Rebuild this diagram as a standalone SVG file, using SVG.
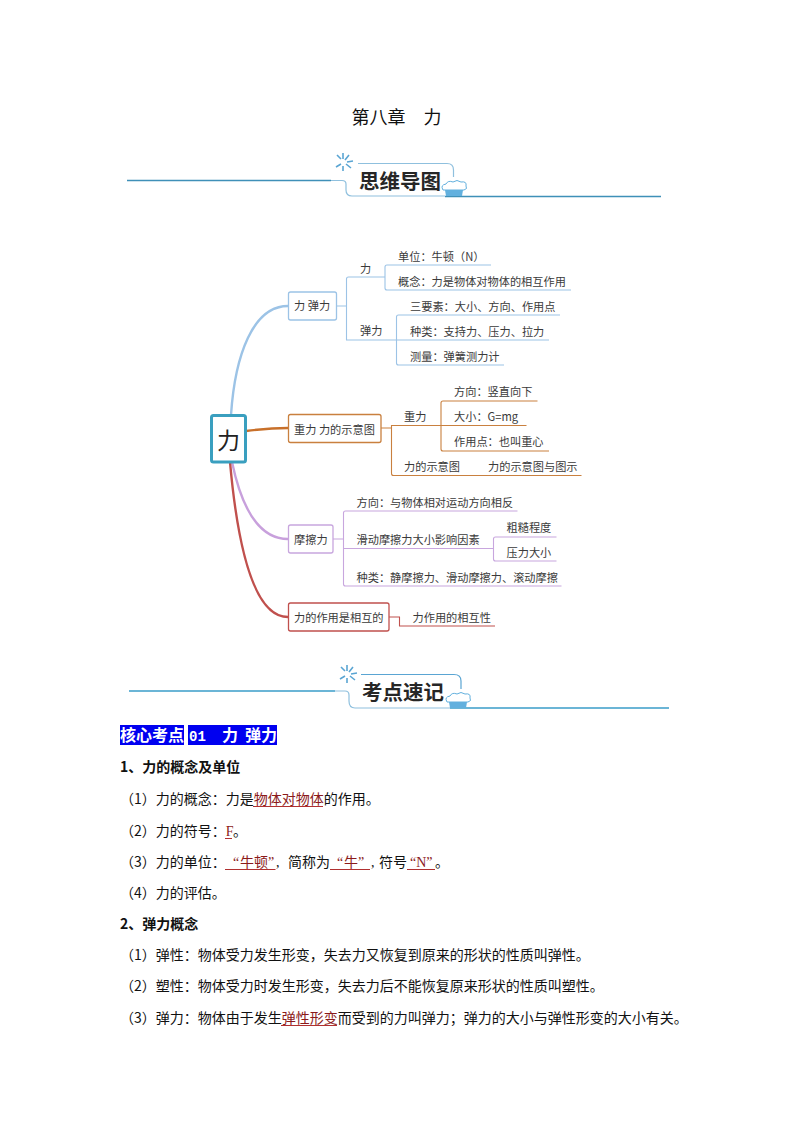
<svg xmlns="http://www.w3.org/2000/svg" width="793" height="1123" viewBox="0 0 793 1123">
<style>
text{font-family:"Noto Sans CJK SC","Noto Sans",sans-serif;}
.m{font-size:11.2px;fill:#3a3a3a}
.b{font-size:14px;fill:#111}
.bb{font-size:14px;font-weight:700;fill:#111}
.r{fill:#8b1a1a}
.sf{font-family:"Liberation Serif",serif}
.u{stroke:#b03030;stroke-width:1;fill:none}
.ban{font-size:16px;font-weight:700;fill:#fff}
.h{font-size:20.500px;font-weight:700;fill:#262626}
.bx{fill:#fff;stroke-width:1.3}
.cb{fill:none;stroke:#9cc3e6;stroke-width:1.1}
.co{fill:none;stroke:#c9803f;stroke-width:1.1}
.cp{fill:none;stroke:#c8a6de;stroke-width:1.1}
.cr{fill:none;stroke:#c0504d;stroke-width:1.1}
.ray{stroke:#5aa5d3;stroke-width:1.6;fill:none}
.hl{fill:none;stroke:#3f90b8;stroke-width:1.4}
.hb{fill:none;stroke:#8fc0de;stroke-width:1.2}
.hat{fill:#fff;stroke:#62b0de;stroke-width:1}
.hatb{fill:#62b0de}
</style>
<defs>
<g id="deco">
<path class="ray" d="M-1 -9L-1 -3M5 -7L1 -2M9 -1L3 0M7 6L2 2M-1 9L-1 4M-8 5L-3 2M-7 -7L-3 -3"/>
<path class="hat" d="M99 28Q96 23 102 22Q104 18 109 20Q113 17 117 20Q123 19 122 24Q124 27 120 28Z"/>
<path class="hatb" d="M101 28H119L118 34H102Z"/>
</g>
</defs>
<text x="351.5" y="124" font-size="18" fill="#111">第八章　力</text>

<g id="header1">
<path class="hl" d="M127 180.500H331"/>
<path class="hb" d="M331 180.500H342Q346 180.500 346 184V190Q346 196 352 196H445"/>
<path class="hb" d="M358 163.500H447Q453.500 163.500 453.500 170V177"/>
<path class="hl" d="M445 196.500H661"/>
<use href="#deco" x="344" y="162"/>
<text class="h" x="359" y="188.500">思维导图</text>
</g>

<g id="connectors">
<path fill="none" stroke="#9cc3e6" stroke-width="2.4" d="M231 415C235 355 253 306 288 306"/>
<path fill="none" stroke="#c8702a" stroke-width="2.4" d="M246 431C262 429 272 428 288 428"/>
<path fill="none" stroke="#c8a0dc" stroke-width="2.4" d="M232 462C241 505 258 539 288 539"/>
<path fill="none" stroke="#c0504d" stroke-width="2.4" d="M230 462C237 540 252 617 288 617"/>
<path class="cb" d="M337 306H346.500M396.500 340H346.500Q346.500 340 346.500 338V279Q346.500 277 348.500 277H385M385 277V267Q385 265 387 265H491M385 277V288Q385 290 387 290H571"/>
<path class="cb" d="M396.500 340V317Q396.500 315 398.500 315H560M396.500 340H549M396.500 340V363Q396.500 365 398.500 365H504"/>
<path class="co" d="M381 428H391.500M441 425.500H391.500V473.500Q391.500 475.500 393.500 475.500H581.500"/>
<path class="co" d="M441 425.500V403Q441 401 443 401H537.500M441 425.500H526.500M441 425.500V449Q441 451 443 451H549"/>
<path class="cp" d="M333 539H343.500M343.500 548.500V513Q343.500 511 345.500 511H517.500M343.500 548.500H493.500M343.500 548.500V584Q343.500 586 345.500 586H561.500"/>
<path class="cp" d="M493.500 548.500V539Q493.500 537 495.500 537H556.500M493.500 548.500V559Q493.500 561 495.500 561H556.500"/>
<path class="cr" d="M389 617H399.500V626H495"/>
</g>

<g id="central">
<rect x="211.500" y="415.500" width="34" height="46.500" rx="2" fill="#fff" stroke="#3a9fbf" stroke-width="3"/>
<text x="228.500" y="449" font-size="23" text-anchor="middle" fill="#222">力</text>
</g>
<g id="n1"><rect class="bx" x="288.500" y="292" width="48" height="28" rx="2" stroke="#9cc3e6"/><text class="m" x="294" y="310">力 弹力</text></g>
<g id="n2"><rect class="bx" x="288.500" y="414.500" width="92.500" height="28" rx="2" stroke="#c9803f"/><text class="m" x="294" y="434">重力 力的示意图</text></g>
<g id="n3"><rect class="bx" x="288.500" y="525" width="44.500" height="28" rx="2" stroke="#c8a6de"/><text class="m" x="294" y="544">摩擦力</text></g>
<g id="n4"><rect class="bx" x="288.500" y="603" width="100.500" height="28" rx="2" stroke="#c0504d"/><text class="m" x="294" y="622">力的作用是相互的</text></g>

<g id="l1"><text class="m" x="360" y="273">力</text></g>
<g id="l2"><text class="m" x="360" y="335">弹力</text></g>
<g id="l3"><text class="m" x="398" y="261">单位：牛顿（N）</text></g>
<g id="l4"><text class="m" x="398" y="286">概念：力是物体对物体的相互作用</text></g>
<g id="l5"><text class="m" x="410" y="311">三要素：大小、方向、作用点</text></g>
<g id="l6"><text class="m" x="410" y="336">种类：支持力、压力、拉力</text></g>
<g id="l7"><text class="m" x="410" y="361">测量：弹簧测力计</text></g>
<g id="l8"><text class="m" x="404" y="421">重力</text></g>
<g id="l9"><text class="m" x="454" y="396">方向：竖直向下</text></g>
<g id="l10"><text class="m" x="454" y="421">大小：G=mg</text></g>
<g id="l11"><text class="m" x="454" y="446">作用点：也叫重心</text></g>
<g id="l12"><text class="m" x="404" y="471">力的示意图</text></g>
<g id="l13"><text class="m" x="488" y="471">力的示意图与图示</text></g>
<g id="l14"><text class="m" x="356.500" y="507">方向：与物体相对运动方向相反</text></g>
<g id="l15"><text class="m" x="356.500" y="544">滑动摩擦力大小影响因素</text></g>
<g id="l16"><text class="m" x="356.500" y="582">种类：静摩擦力、滑动摩擦力、滚动摩擦</text></g>
<g id="l17"><text class="m" x="506.500" y="532">粗糙程度</text></g>
<g id="l18"><text class="m" x="506.500" y="557">压力大小</text></g>
<g id="l19"><text class="m" x="412.500" y="622">力作用的相互性</text></g>

<g id="header2">
<path class="hl" d="M129 691H335" style="stroke:#3a9cc9"/>
<path class="hb" d="M335 691H345Q349 691 349 695V701Q349 708 355 708H450"/>
<path class="hb" d="M361 674.500H454Q461 674.500 461 681V689" style="stroke:#5aa5d3"/>
<path class="hl" d="M450 708H669" style="stroke:#3a9cc9"/>
<use href="#deco" x="348" y="674"/>
<text class="h" x="362" y="699.500">考点速记</text>
</g>

<g id="banner">
<rect x="120" y="725" width="64" height="20" fill="#0000f0"/>
<rect x="188" y="725" width="89" height="20" fill="#0000f0"/>
<text class="ban" x="120" y="741">核心考点</text>
<text class="ban" x="189" y="741" style="font-family:'Liberation Mono',monospace;font-size:14px">01</text>
<text class="ban" x="222" y="741">力</text>
<text class="ban" x="245" y="741">弹力</text>
</g>

<g id="body">
<text class="bb" x="120" y="772">1、力的概念及单位</text>
<text class="b" x="120" y="804">（1）力的概念：力是<tspan class="r">物体对物体</tspan>的作用。</text>
<path class="u" d="M253 806.500H323"/>
<text class="b" x="120" y="836">（2）力的符号：<tspan class="r sf">F</tspan><tspan x="233">。</tspan></text>
<path class="u" d="M225 838.500H232"/>
<text class="b" x="120" y="867">（3）力的单位：<tspan class="r sf" x="233">“</tspan><tspan class="r" x="240">牛顿</tspan><tspan class="r sf" x="268">”</tspan><tspan class="sf" x="276">,</tspan><tspan x="288">简称为</tspan><tspan class="r sf" x="337">“</tspan><tspan class="r" x="344">牛</tspan><tspan class="r sf" x="358">”</tspan><tspan class="sf" x="371">,</tspan><tspan x="379">符号</tspan><tspan class="r sf" x="410">“N”</tspan><tspan x="435">。</tspan></text>
<path class="u" d="M225 869.500H275.500M330 869.500H370M407 869.500H435"/>
<text class="b" x="120" y="898">（4）力的评估。</text>
<text class="bb" x="120" y="929">2、弹力概念</text>
<text class="b" x="120" y="960">（1）弹性：物体受力发生形变，失去力又恢复到原来的形状的性质叫弹性。</text>
<text class="b" x="120" y="991">（2）塑性：物体受力时发生形变，失去力后不能恢复原来形状的性质叫塑性。</text>
<text class="b" x="120" y="1023">（3）弹力：物体由于发生<tspan class="r">弹性形变</tspan>而受到的力叫弹力；弹力的大小与弹性形变的大小有关。</text>
<path class="u" d="M281 1025.500H337"/>
</g>
</svg>
